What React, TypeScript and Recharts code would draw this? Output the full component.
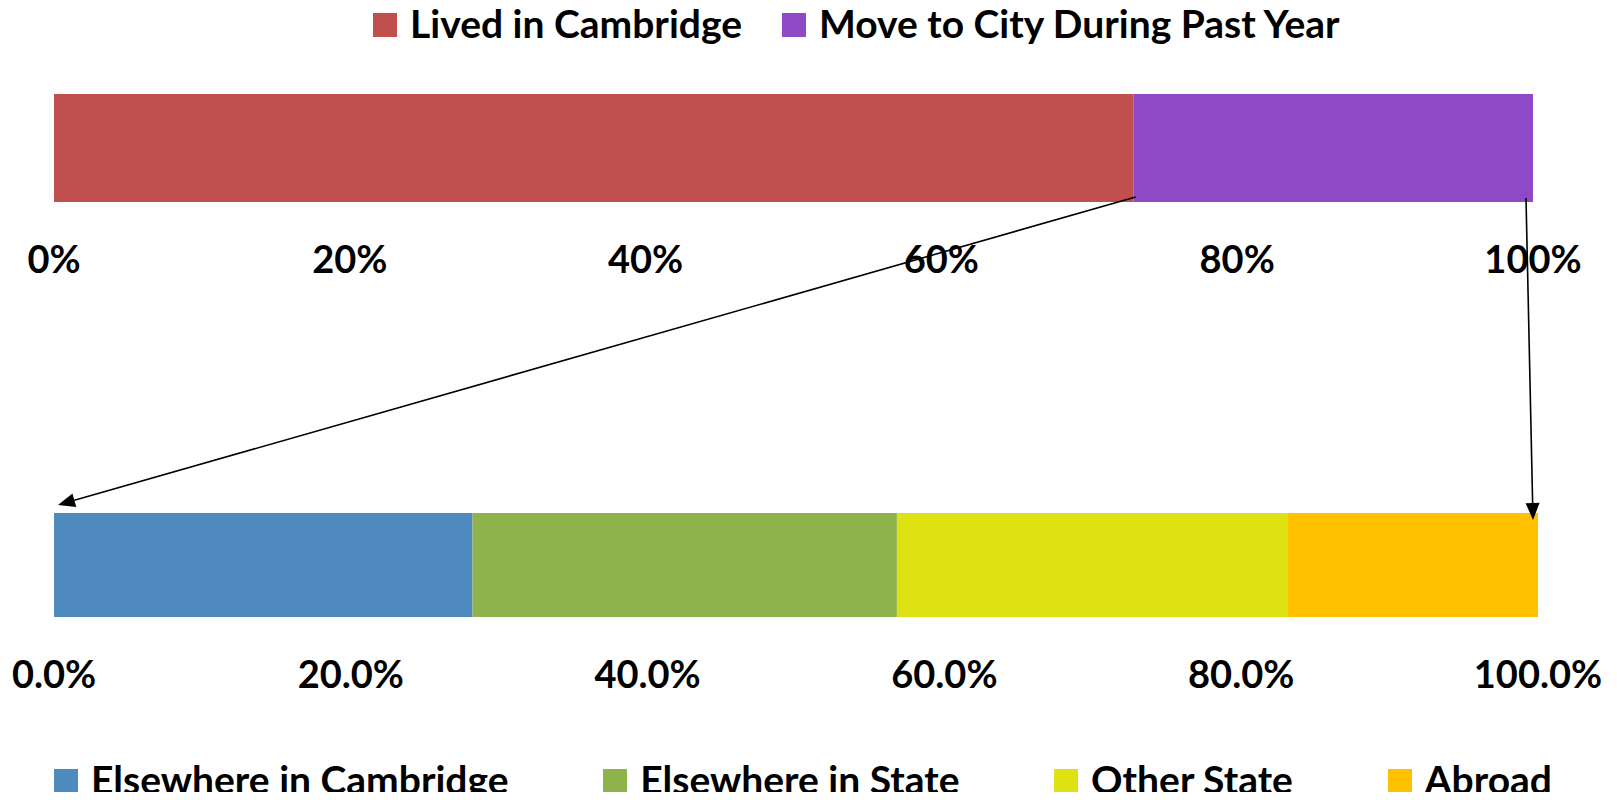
import React from "react";
import { BarChart, Bar, XAxis, YAxis, Legend } from "recharts";

// ---- data ----
const topCategories = ["All residents"];
const livedInCambridge = [73.0];
const movedToCity = [27.0];
const topTicks = [0, 20, 40, 60, 80, 100];
const topSeriesNames = ["Lived in Cambridge", "Move to City During Past Year"];

const bottomCategories = ["Movers"];
const elsewhereCambridge = [28.2];
const elsewhereState = [28.6];
const otherState = [26.3];
const abroad = [16.9];
const bottomTicks = [0, 20, 40, 60, 80, 100];
const bottomSeriesNames = ["Elsewhere in Cambridge", "Elsewhere in State", "Other State", "Abroad"];

const topData = topCategories.map((name, i) => ({
  name,
  lived: livedInCambridge[i],
  moved: movedToCity[i],
}));
const bottomData = bottomCategories.map((name, i) => ({
  name,
  cam: elsewhereCambridge[i],
  state: elsewhereState[i],
  other: otherState[i],
  abroad: abroad[i],
}));

// ---- layout ----
const W = 1601;
const H = 792;
const FONT = "Lato, 'Open Sans', 'DejaVu Sans', sans-serif";

const TOP_H = 300;
const TOP_MARGIN = { top: 0, left: 46, right: 76, bottom: 46 };
const TOP_LEGEND_H = 86;
const AXIS_H = 60;

const BOT_Y = 400;
const BOT_H = 392;
const BOT_MARGIN = { top: 105, left: 46, right: 71, bottom: 0 };
const BOT_LEGEND_H = 123;

const topPlot = {
  left: TOP_MARGIN.left,
  width: W - TOP_MARGIN.left - TOP_MARGIN.right,
  top: TOP_MARGIN.top + TOP_LEGEND_H,
  bottom: TOP_H - TOP_MARGIN.bottom - AXIS_H,
};
const botPlot = {
  left: BOT_MARGIN.left,
  width: W - BOT_MARGIN.left - BOT_MARGIN.right,
  top: BOT_Y + BOT_MARGIN.top,
  bottom: BOT_Y + BOT_H - BOT_MARGIN.bottom - BOT_LEGEND_H - AXIS_H,
};
const topX = (v: number) => topPlot.left + (v / 100) * topPlot.width;
const botX = (v: number) => botPlot.left + (v / 100) * botPlot.width;

const makeTick = (fmt: (v: number) => string) => (props: any) => {
  const { x, y, payload } = props;
  return (
    <text
      x={x}
      y={y + 56}
      textAnchor="middle"
      dominantBaseline="central"
      fontFamily={FONT}
      fontWeight={700}
      fontSize={38}
      fill="#000"
    >
      {fmt(payload.value)}
    </text>
  );
};

const LegendItems = ({ payload, order, style }: any) => {
  const items = [...(payload || [])].sort(
    (a: any, b: any) => order.indexOf(a.value) - order.indexOf(b.value)
  );
  return (
    <div style={{ display: "flex", ...style }}>
      {items.map((p: any) => (
        <div key={p.value} style={{ display: "flex", alignItems: "center", height: 40 }}>
          <div style={{ width: 24, height: 24, background: p.color, marginRight: 13, marginTop: 4, flex: "none" }} />
          <span
            style={{
              fontFamily: FONT,
              fontWeight: 700,
              fontSize: 39,
              lineHeight: "40px",
              color: "#000",
              whiteSpace: "nowrap",
            }}
          >
            {p.value}
          </span>
        </div>
      ))}
    </div>
  );
};

const Arrow = ({ x1, y1, x2, y2 }: { x1: number; y1: number; x2: number; y2: number }) => {
  const ang = Math.atan2(y2 - y1, x2 - x1);
  const L = 17;
  const Wd = 7;
  const bx = x2 - L * Math.cos(ang);
  const by = y2 - L * Math.sin(ang);
  const px = -Math.sin(ang) * Wd;
  const py = Math.cos(ang) * Wd;
  return (
    <g>
      <line x1={x1} y1={y1} x2={bx} y2={by} stroke="#000" strokeWidth={1.6} />
      <polygon points={`${x2},${y2} ${bx + px},${by + py} ${bx - px},${by - py}`} fill="#000" />
    </g>
  );
};

export default function App() {
  const a1 = { x1: topX(livedInCambridge[0]) + 2, y1: topPlot.bottom - 5, x2: botX(0) + 4, y2: botPlot.top - 8 };
  const a2 = { x1: topX(100) - 7, y1: topPlot.bottom - 4, x2: botX(100) - 5, y2: botPlot.top + 7 };
  return (
    <div style={{ position: "relative", width: W, height: H, marginBottom: -8, background: "#fff" }}>
      <div style={{ position: "absolute", left: 0, top: 0 }}>
        <BarChart width={W} height={TOP_H} data={topData} layout="vertical" margin={TOP_MARGIN} barCategoryGap={0}>
          <XAxis
            type="number"
            domain={[0, 100]}
            ticks={topTicks}
            interval={0}
            axisLine={false}
            tickLine={false}
            tickSize={0}
            tickMargin={0}
            height={AXIS_H}
            tick={makeTick((v) => `${v}%`)}
          />
          <YAxis type="category" dataKey="name" hide />
          <Legend
            verticalAlign="top"
            wrapperStyle={{ left: 0, top: 0, width: W, height: TOP_LEGEND_H }}
            content={(props: any) => (
              <LegendItems
                payload={props.payload}
                order={topSeriesNames}
                style={{ height: TOP_LEGEND_H, alignItems: "flex-start", paddingLeft: 365, marginTop: -5, gap: 40, boxSizing: "border-box" }}
              />
            )}
          />
          <Bar dataKey="lived" name={topSeriesNames[0]} stackId="a" fill="#C0504D" isAnimationActive={false} />
          <Bar dataKey="moved" name={topSeriesNames[1]} stackId="a" fill="#8D49C6" isAnimationActive={false} />
        </BarChart>
      </div>
      <div style={{ position: "absolute", left: 0, top: BOT_Y }}>
        <BarChart width={W} height={BOT_H} data={bottomData} layout="vertical" margin={BOT_MARGIN} barCategoryGap={0}>
          <XAxis
            type="number"
            domain={[0, 100]}
            ticks={bottomTicks}
            interval={0}
            axisLine={false}
            tickLine={false}
            tickSize={0}
            tickMargin={0}
            height={AXIS_H}
            tick={makeTick((v) => `${v.toFixed(1)}%`)}
          />
          <YAxis type="category" dataKey="name" hide />
          <Legend
            verticalAlign="bottom"
            wrapperStyle={{ left: 0, bottom: 0, width: W, height: BOT_LEGEND_H }}
            content={(props: any) => (
              <LegendItems
                payload={props.payload}
                order={bottomSeriesNames}
                style={{
                  height: BOT_LEGEND_H,
                  alignItems: "flex-end",
                  justifyContent: "space-between",
                  paddingLeft: 46,
                  paddingRight: 57,
                  paddingBottom: 1,
                  boxSizing: "border-box",
                }}
              />
            )}
          />
          <Bar dataKey="cam" name={bottomSeriesNames[0]} stackId="b" fill="#4F8BBE" isAnimationActive={false} />
          <Bar dataKey="state" name={bottomSeriesNames[1]} stackId="b" fill="#8FB34C" isAnimationActive={false} />
          <Bar dataKey="other" name={bottomSeriesNames[2]} stackId="b" fill="#DEE112" isAnimationActive={false} />
          <Bar dataKey="abroad" name={bottomSeriesNames[3]} stackId="b" fill="#FFC000" isAnimationActive={false} />
        </BarChart>
      </div>
      <svg width={W} height={H} style={{ position: "absolute", left: 0, top: 0, pointerEvents: "none" }}>
        <Arrow {...a1} />
        <Arrow {...a2} />
      </svg>
    </div>
  );
}
